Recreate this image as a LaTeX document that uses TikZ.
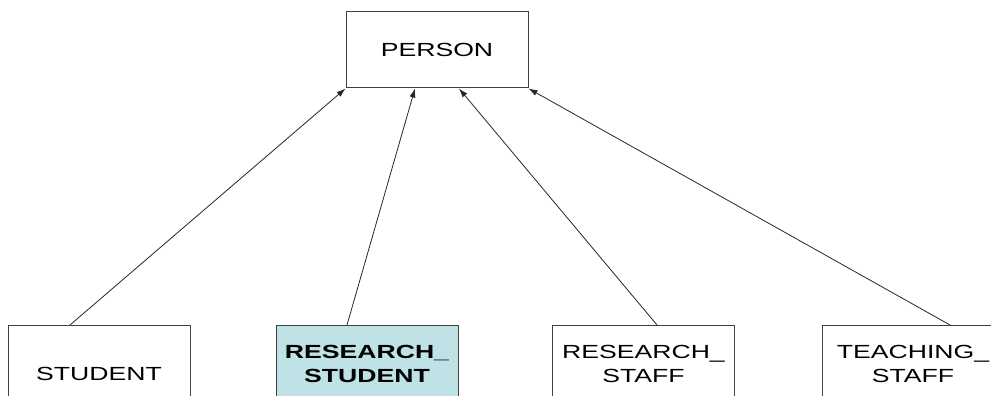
\documentclass[tikz,border=0pt]{standalone}
\usepackage{fontspec}
\setmainfont{Liberation Sans}[FakeStretch=1.4]
\newfontfamily\widebold{Liberation Sans Bold}[FakeStretch=1.4]
\usetikzlibrary{arrows.meta}
\definecolor{paleblue}{RGB}{190,226,230}

\begin{document}
\begin{tikzpicture}[x=1pt,y=-1pt,
  box/.style={draw=black!75,line width=1pt,minimum width=182pt,inner sep=0pt,
    align=center,font=\fontsize{19}{24}\selectfont},
  isa/.style={-{Latex[length=9pt,width=6pt]},line width=0.8pt,black!85}]
\useasboundingbox (0,0) rectangle (991,396);
\clip (0,0) rectangle (991,396);

% Superclass
\node[box,minimum height=76pt] (person) at (437,50) {PERSON};

% Subclasses
\node[box,minimum height=96pt,anchor=north] (student) at (99,325) {STUDENT};
\node[box,minimum height=76pt,anchor=north,fill=paleblue] (rstudent) at (367,325) {{\widebold RESEARCH\_}\\{\widebold STUDENT}};
\node[box,minimum height=76pt,anchor=north] (rstaff) at (643.5,325) {RESEARCH\_\\STAFF};
\node[box,minimum height=76pt,anchor=north] (tstaff) at (913,325) {TEACHING\_\\STAFF};

% Generalisation arrows
\draw[isa] ([xshift=-29pt]student.north) -- (person.south west);
\draw[isa] ([xshift=-20pt]rstudent.north) -- ([xshift=-22pt]person.south);
\draw[isa] ([xshift=13.5pt]rstaff.north) -- ([xshift=22pt]person.south);
\draw[isa] ([xshift=37pt]tstaff.north) -- (person.south east);

\end{tikzpicture}
\end{document}
